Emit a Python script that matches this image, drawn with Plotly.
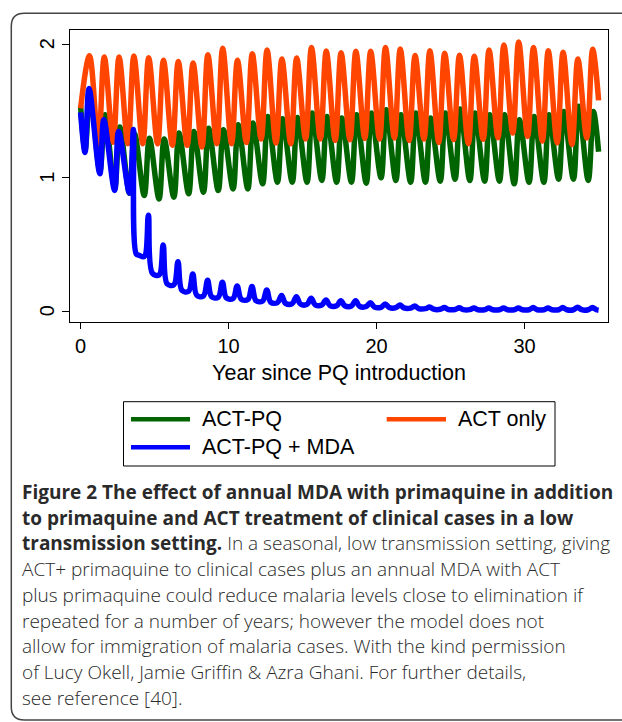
import plotly.graph_objects as go

# ---------------- data ----------------
SERIES = ["ACT-PQ", "ACT only", "ACT-PQ + MDA"]
COLORS = ["#006400", "#FF4500", "#0000FF"]

YEARS = list(range(35))          # 0 .. 34, one seasonal cycle per year
END_T = 35

# ACT only: seasonal peaks (year + 0.6) and troughs (year + 0.2, years 1..34)
ACT_ONLY_START = 1.52
ACT_ONLY_PEAK = [1.915, 1.905, 1.905, 1.912, 1.900, 1.880, 1.872, 1.860, 1.922, 1.970,
                 1.880, 1.930, 1.957, 1.890, 1.897, 1.976, 1.950, 1.937, 1.947, 1.947,
                 1.975, 1.965, 1.916, 1.951, 1.932, 1.918, 1.910, 1.957, 1.994, 2.018,
                 1.976, 1.951, 1.941, 1.890, 1.962]
ACT_ONLY_TROUGH = [None, 1.255, 1.267, 1.255, 1.255, 1.255, 1.243, 1.243, 1.230, 1.255,
                   1.255, 1.265, 1.290, 1.260, 1.255, 1.290, 1.290, 1.280, 1.285, 1.295,
                   1.290, 1.298, 1.280, 1.290, 1.265, 1.286, 1.255, 1.288, 1.300, 1.335,
                   1.310, 1.275, 1.262, 1.250, 1.298]
ACT_ONLY_END = 1.58

# ACT-PQ: troughs (year + 0.3) and peaks (year + 0.65)
ACT_PQ_START = 1.54
ACT_PQ_TROUGH = [1.210, 1.050, 0.925, 0.885, 0.867, 0.842, 0.855, 0.880, 0.892, 0.905,
                 0.917, 0.917, 0.955, 0.967, 0.967, 0.967, 0.980, 0.967, 0.967, 0.960,
                 1.000, 0.980, 0.967, 0.967, 0.975, 0.990, 0.980, 0.975, 0.975, 0.955,
                 0.967, 0.967, 0.990, 0.990, 0.980]
ACT_PQ_PEAK = [1.640, 1.472, 1.380, 1.330, 1.297, 1.290, 1.335, 1.347, 1.372, 1.360,
               1.397, 1.410, 1.460, 1.442, 1.452, 1.485, 1.460, 1.447, 1.472, 1.485,
               1.510, 1.472, 1.485, 1.447, 1.485, 1.515, 1.485, 1.472, 1.472, 1.435,
               1.460, 1.472, 1.497, 1.535, 1.497]
ACT_PQ_END = 1.195

# ACT-PQ + MDA
MDA_START = 1.49
MDA_EARLY_YEARS = [0, 1, 2, 3]                     # before the first MDA round
MDA_EARLY_TROUGH = [1.190, 1.030, 0.905, 0.887]    # year + 0.3
MDA_EARLY_PEAK = [1.668, 1.435, 1.347, 1.362]      # year + 0.57
MDA_DROP_T = [3.76, 3.95]                          # first MDA round
MDA_DROP_V = [0.430, 0.420]
MDA_YEARS = list(range(4, 35))
MDA_PRE = [0.410, 0.272, 0.198, 0.150, 0.115, 0.105, 0.096, 0.088, 0.077, 0.065,
           0.058, 0.052, 0.047, 0.041, 0.040, 0.036, 0.030, 0.027, 0.024, 0.020,
           0.015, 0.014, 0.013, 0.012, 0.012, 0.012, 0.012, 0.012, 0.012, 0.012, 0.012]
MDA_PEAK = [0.720, 0.497, 0.372, 0.280, 0.232, 0.218, 0.190, 0.185, 0.160, 0.118,
            0.110, 0.097, 0.085, 0.080, 0.080, 0.065, 0.055, 0.047, 0.040, 0.032,
            0.028, 0.026, 0.025, 0.025, 0.025, 0.025, 0.028, 0.025, 0.028, 0.030, 0.028]
MDA_POST = [0.285, 0.205, 0.157, 0.120, 0.110, 0.100, 0.092, 0.080, 0.068, 0.060,
            0.055, 0.049, 0.043, 0.042, 0.038, 0.032, 0.029, 0.025, 0.021, 0.016,
            0.014, 0.013, 0.012, 0.012, 0.012, 0.012, 0.012, 0.012, 0.012, 0.012, 0.012]
MDA_END = 0.008

X_TICKS = [0, 10, 20, 30]
Y_TICKS = [0, 1, 2]
X_TITLE = "Year since PQ introduction"

CAPTION = [
    "<b>Figure 2 The effect of annual MDA with primaquine in addition</b>",
    "<b>to primaquine and ACT treatment of clinical cases in a low</b>",
    "<b>transmission setting.</b> In a seasonal, low transmission setting, giving",
    "ACT+ primaquine to clinical cases plus an annual MDA with ACT",
    "plus primaquine could reduce malaria levels close to elimination if",
    "repeated for a number of years; however the model does not",
    "allow for immigration of malaria cases. With the kind permission",
    "of Lucy Okell, Jamie Griffin &amp; Azra Ghani. For further details,",
    "see reference [40].",
]

# ---------------- build series ----------------
def act_only_series():
    t, v = [0], [ACT_ONLY_START]
    for i, yr in enumerate(YEARS):
        if ACT_ONLY_TROUGH[i] is not None:
            t.append(yr + 0.2); v.append(ACT_ONLY_TROUGH[i])
        t.append(yr + 0.6); v.append(ACT_ONLY_PEAK[i])
    t.append(END_T); v.append(ACT_ONLY_END)
    return t, v

def act_pq_series():
    t, v = [0], [ACT_PQ_START]
    for i, yr in enumerate(YEARS):
        t.append(yr + 0.3); v.append(ACT_PQ_TROUGH[i])
        t.append(yr + 0.65); v.append(ACT_PQ_PEAK[i])
    t.append(END_T); v.append(ACT_PQ_END)
    return t, v

def mda_series():
    t, v = [0], [MDA_START]
    for i, yr in enumerate(MDA_EARLY_YEARS):
        t.append(yr + 0.3); v.append(MDA_EARLY_TROUGH[i])
        t.append(yr + 0.57); v.append(MDA_EARLY_PEAK[i])
    t += MDA_DROP_T; v += MDA_DROP_V
    for i, yr in enumerate(MDA_YEARS):
        t.append(yr + 0.3); v.append(MDA_PRE[i])
        t.append(yr + 0.58); v.append(MDA_PEAK[i])
        t.append(yr + 0.85); v.append(MDA_POST[i])
    t.append(END_T); v.append(MDA_END)
    return t, v

# ---------------- geometry ----------------
W, H = 622, 722
L, R, T, B = 70, 14, 30, 400
PW, PH = W - L - R, H - T - B

def fx(p):
    return (p - L) / PW

def fy(p):
    return (H - B - p) / PH

fig = go.Figure()
builders = [act_pq_series, act_only_series, mda_series]
for name, color, build in zip(SERIES, COLORS, builders):
    t, v = build()
    fig.add_trace(go.Scatter(
        x=t, y=v, mode="lines", name=name, showlegend=False,
        line=dict(color=color, width=5.5, shape="spline", smoothing=1.0),
        hoverinfo="skip"))

FONT = "Liberation Sans, Arial, sans-serif"
axis_font = dict(family=FONT, size=20, color="black")
fig.update_xaxes(range=[-0.716, 35.635], tickvals=X_TICKS, ticks="outside", ticklen=6,
                 tickwidth=1, tickcolor="black", showline=True, mirror=True,
                 linecolor="black", linewidth=1, showgrid=False, zeroline=False,
                 tickfont=axis_font,
                 title=dict(text=X_TITLE, standoff=8,
                            font=dict(family=FONT, size=21.5, color="black")))
fig.update_yaxes(range=[-0.08, 2.107], tickvals=Y_TICKS, ticks="outside", ticklen=7,
                 tickwidth=1, tickcolor="black", showline=True, mirror=True,
                 linecolor="black", linewidth=1, showgrid=False, zeroline=False,
                 showticklabels=False)

shapes = []
annotations = []

# vertical y tick labels (Stata style), placed at the axis values
for v in Y_TICKS:
    annotations.append(dict(xref="paper", yref="y", x=fx(47), y=v, text=str(v),
                            textangle=-90, xanchor="center", yanchor="middle",
                            showarrow=False, font=axis_font))

# outer rounded frame of the figure panel
x0, y0, x1, y1, r = 11.3, 13.3, 660, 720, 13
path = (f"M {fx(x1)},{fy(y0)} L {fx(x0 + r)},{fy(y0)} Q {fx(x0)},{fy(y0)} {fx(x0)},{fy(y0 + r)} "
        f"L {fx(x0)},{fy(y1 - r)} Q {fx(x0)},{fy(y1)} {fx(x0 + r)},{fy(y1)} L {fx(x1)},{fy(y1)}")
shapes.append(dict(type="path", xref="paper", yref="paper", path=path,
                   line=dict(color="#444444", width=1.5)))

# legend box
shapes.append(dict(type="rect", xref="paper", yref="paper",
                   x0=fx(123.5), x1=fx(555), y0=fy(401.7), y1=fy(466),
                   line=dict(color="black", width=1), fillcolor="white"))
legend_slots = [(131, 190, 419.3, 200), (386.7, 446, 419.3, 456), (131, 190, 447.3, 200)]
legend_order = [0, 1, 2]
for idx, (lx0, lx1, ly, tx) in zip(legend_order, legend_slots):
    shapes.append(dict(type="line", xref="paper", yref="paper",
                       x0=fx(lx0), x1=fx(lx1), y0=fy(ly), y1=fy(ly),
                       line=dict(color=COLORS[idx], width=4.5)))
    annotations.append(dict(xref="paper", yref="paper", x=fx(tx), y=fy(ly),
                            xanchor="left", yanchor="middle", showarrow=False,
                            text=SERIES[idx],
                            font=dict(family=FONT, size=21.5, color="black")))

# caption
for i, line in enumerate(CAPTION):
    annotations.append(dict(xref="paper", yref="paper", x=fx(20), y=fy(492 + 25.7 * i),
                            xanchor="left", yanchor="middle", showarrow=False, text=line,
                            font=dict(family="Open Sans, sans-serif", size=19, color="#2a2a2a",
                                      weight=300)))

fig.update_layout(width=W, height=H, margin=dict(l=L, r=R, t=T, b=B, autoexpand=False),
                  paper_bgcolor="white", plot_bgcolor="white",
                  shapes=shapes, annotations=annotations, showlegend=False)

fig.write_html("out.html", config={"displayModeBar": False},
               post_script="document.body.style.margin='0px';")
